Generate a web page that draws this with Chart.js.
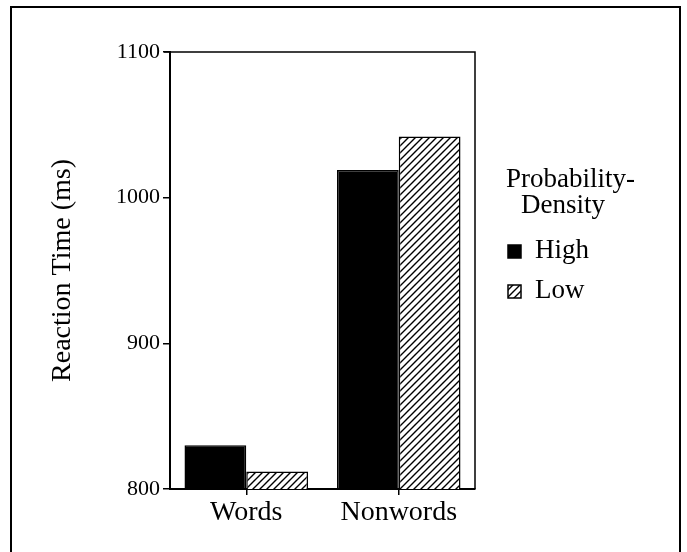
<!DOCTYPE html>
<html lang="en">
  <head>
    <meta charset="UTF-8" />
    <title>Reaction Time by Probability-Density</title>
    <script src="https://cdn.jsdelivr.net/npm/chart.js"></script>
    <style>
      html, body { margin: 0; padding: 0; background: #fff; }
      #wrap { width: 687px; height: 552px; position: relative; }
    </style>
  </head>
  <body>
    <div id="wrap"><canvas id="myChart" width="687" height="552"></canvas></div>
    <script>
      const categories = ["Words", "Nonwords"];
      const highRT = [830, 1019];
      const lowRT = [812, 1042];
      const seriesNames = ["High", "Low"];
      const legendTitle = ["Probability-", "Density"];
      const yMin = 800, yMax = 1100, yStep = 100;

      const serif = "'Liberation Serif', 'DejaVu Serif', serif";

      // diagonal hatch for the "Low" bars
      function makeHatch() {
        const c = document.createElement("canvas");
        c.width = 7; c.height = 7;
        const g = c.getContext("2d");
        g.fillStyle = "#fff";
        g.fillRect(0, 0, 7, 7);
        g.strokeStyle = "#000";
        g.lineWidth = 1.4;
        g.beginPath();
        g.moveTo(-1, 8); g.lineTo(8, -1);
        g.moveTo(-1, 1); g.lineTo(1, -1);
        g.moveTo(6, 8); g.lineTo(8, 6);
        g.stroke();
        return g.createPattern(c, "repeat");
      }

      const ctx = document.getElementById("myChart").getContext("2d");
      const hatch = makeHatch();

      // outer frame, plot box and the legend on the right
      const decor = {
        id: "decor",
        afterDraw(chart) {
          const c = chart.ctx;
          const a = chart.chartArea;
          c.save();
          c.strokeStyle = "#000";
          c.lineWidth = 2;
          c.beginPath();
          c.moveTo(11, 552); c.lineTo(11, 7); c.lineTo(680, 7); c.lineTo(680, 552);
          c.stroke();
          c.lineWidth = 1.5;
          c.beginPath();
          c.moveTo(a.left - 6, a.top); c.lineTo(a.right, a.top); c.lineTo(a.right, a.bottom);
          c.stroke();

          c.fillStyle = "#000";
          c.font = "27px " + serif;
          c.textAlign = "left";
          c.textBaseline = "alphabetic";
          c.fillText(legendTitle[0], 506, 187);
          c.fillText(legendTitle[1], 521, 213);
          const rows = [258, 298];
          chart.data.datasets.forEach((ds, i) => {
            const y = rows[i];
            c.fillStyle = ds.backgroundColor;
            c.fillRect(508, y - 13, 13, 13);
            c.lineWidth = 1.5;
            c.strokeStyle = "#000";
            c.strokeRect(508, y - 13, 13, 13);
            c.fillStyle = "#000";
            c.fillText(ds.label, 535, y);
          });
          c.restore();
        },
      };

      new Chart(ctx, {
        type: "bar",
        data: {
          labels: categories,
          datasets: [
            {
              label: seriesNames[0],
              data: highRT,
              backgroundColor: "#000",
              borderColor: "#000",
              borderWidth: 1.5,
            },
            {
              label: seriesNames[1],
              data: lowRT,
              backgroundColor: hatch,
              borderColor: "#000",
              borderWidth: 1.5,
            },
          ],
        },
        options: {
          responsive: false,
          animation: false,
          layout: { padding: { left: 0, top: 52, right: 212, bottom: 0 } },
          datasets: { bar: { categoryPercentage: 0.81, barPercentage: 1.0 } },
          plugins: { legend: { display: false }, tooltip: { enabled: false } },
          scales: {
            x: {
              offset: true,
              afterFit(s) { s.height = 63; },
              grid: {
                display: true,
                drawOnChartArea: false,
                offset: false,
                tickLength: 6,
                color: "#000",
                lineWidth: 1.5,
              },
              border: { display: true, color: "#000", width: 2 },
              ticks: {
                color: "#000",
                padding: 1,
                font: { family: serif, size: 28 },
              },
            },
            y: {
              min: yMin,
              max: yMax,
              afterFit(s) { s.width = 170; },
              grid: {
                display: true,
                drawOnChartArea: false,
                tickLength: 7,
                color: "#000",
                lineWidth: 1.5,
              },
              border: { display: true, color: "#000", width: 2 },
              ticks: {
                stepSize: yStep,
                color: "#000",
                padding: 3,
                font: { family: serif, size: 22 },
                callback: (v) => String(v),
              },
              title: {
                display: true,
                text: "Reaction Time (ms)",
                color: "#000",
                padding: { top: 46, bottom: 0 },
                font: { family: serif, size: 28 },
              },
            },
          },
        },
        plugins: [decor],
      });
    </script>
  </body>
</html>
